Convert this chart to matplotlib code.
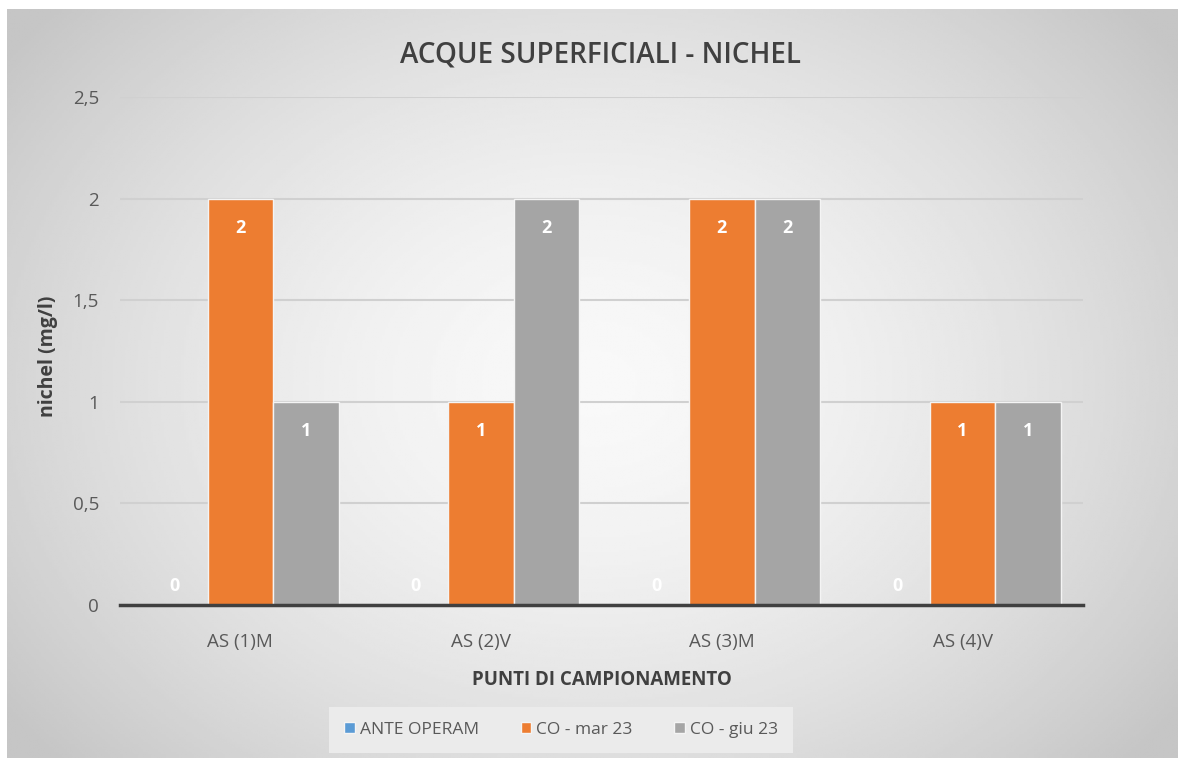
import numpy as np
import matplotlib.pyplot as plt

plt.rcParams['font.family'] = ['Open Sans', 'DejaVu Sans']

categories = ["AS (1)M", "AS (2)V", "AS (3)M", "AS (4)V"]
series_names = ["ANTE OPERAM", "CO - mar 23", "CO - giu 23"]
ante_operam = [0, 0, 0, 0]
co_mar23 = [2, 1, 2, 1]
co_giu23 = [1, 2, 2, 1]
colors = ["#5B9BD5", "#ED7D31", "#A5A5A5"]

fig = plt.figure(figsize=(11.81, 7.62), dpi=100)

# radial grey gradient background of the chart area
bg = fig.add_axes([7 / 1181, 4 / 762, 1171 / 1181, 749 / 762], zorder=-10)
yy, xx = np.mgrid[0:1:300j, 0:1:460j]
r = np.sqrt(((xx - 0.5) / 0.62) ** 2 + ((yy - 0.5) / 0.75) ** 2)
shade = 0.975 - 0.2 * np.clip(r, 0, 1) ** 1.6
bg.imshow(shade, cmap="gray", vmin=0, vmax=1, aspect="auto", origin="upper",
          extent=[0, 1, 0, 1])
bg.set_axis_off()

ax = fig.add_axes([120 / 1181, 1 - 605 / 762, 963 / 1181, 508 / 762])
ax.patch.set_alpha(0)

x = np.arange(len(categories))
w = 0.272
all_series = [ante_operam, co_mar23, co_giu23]
for i, (vals, name, c) in enumerate(zip(all_series, series_names, colors)):
    pos = x + (i - 1) * w
    bars = ax.bar(pos, vals, w, color=c, edgecolor="#f4f4f4", linewidth=1,
                  label=name, zorder=3)
    for b, v in zip(bars, vals):
        off = 14 if v == 0 else -21
        ax.annotate(f"{v}", (b.get_x() + b.get_width() / 2, v),
                    xytext=(0, off), textcoords="offset points",
                    ha="center", va="center", color="white",
                    fontsize=13, fontweight="bold", zorder=4)

ax.set_xlim(-0.5, len(categories) - 0.5)
ax.set_ylim(0, 2.5)
ax.set_yticks([0, 0.5, 1, 1.5, 2, 2.5])
ax.set_yticklabels(["0", "0,5", "1", "1,5", "2", "2,5"])
ax.set_xticks(x)
ax.set_xticklabels(categories)
ax.tick_params(axis="both", length=0, labelsize=13.5, colors="#595959")
ax.tick_params(axis="x", pad=20)
ax.tick_params(axis="y", pad=15)
ax.grid(axis="y", color="#d0d0d0", linewidth=1.5, zorder=0)
for s in ["top", "right", "left"]:
    ax.spines[s].set_visible(False)
ax.spines["bottom"].set_color("#404040")
ax.spines["bottom"].set_linewidth(2.5)
ax.spines["bottom"].set_zorder(5)

ax.set_ylabel("nichel (mg/l)", fontsize=14, fontweight="bold", color="#404040",
              va="center", ha="center")
ax.yaxis.set_label_coords((48 - 120) / 963, 0.49)
ax.set_xlabel("PUNTI DI CAMPIONAMENTO", fontsize=13.5, fontweight="bold",
              color="#404040", labelpad=14)
fig.text(600 / 1181, 1 - 55 / 762, "ACQUE SUPERFICIALI - NICHEL", ha="center",
         va="center", fontsize=20, fontweight="semibold", color="#404040")

leg = fig.legend(loc="center", bbox_to_anchor=(561 / 1181, 1 - 730 / 762),
                 ncol=3, frameon=True, fontsize=12.5, handlelength=0.6,
                 handleheight=0.6, handletextpad=0.3, columnspacing=2.4,
                 borderpad=0.85, fancybox=False)
leg.get_frame().set_facecolor("#ebebeb")
leg.get_frame().set_edgecolor("none")
leg.get_frame().set_alpha(1)
for t in leg.get_texts():
    t.set_color("#595959")

fig.savefig("out.png", dpi=100, facecolor="white")
